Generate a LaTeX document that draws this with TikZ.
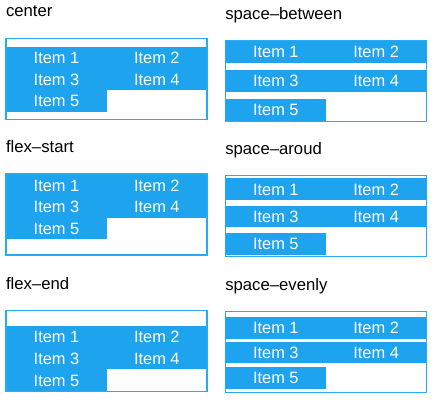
\documentclass[tikz,border=0pt]{standalone}
\usepackage{fontspec}
\setmainfont{Liberation Sans}
\definecolor{fbblue}{RGB}{30,164,238}
\definecolor{fbframe}{RGB}{40,170,243}
\tikzset{
  paneltitle/.style={anchor=base west, inner sep=0pt, outer sep=0pt, font=\fontsize{16.7}{20}\selectfont, text=black},
  panelbox/.style={anchor=north west, draw=fbframe, line width=1.1pt, minimum width=201pt, minimum height=81pt, inner sep=0pt, outer sep=0pt},
  flexitem/.style={anchor=north west, fill=fbblue, minimum width=100.4pt, minimum height=21.6pt, inner sep=0pt, outer sep=0pt, text height=11.7pt, text depth=0pt, text=white, font=\fontsize{16.4}{19}\selectfont}
}
% #1 name, #2 x, #3 y (top), #4 title, #5 #6 #7 row offsets
\newcommand\flexpanel[7]{%
  \node[paneltitle] (#1t) at ({#2},{#3-21.5}) {#4};
  \node[flexitem] (#1a) at ({#2+0.3},{#3+#5}) {Item 1};
  \node[flexitem] (#1b) at ({#2+100.6},{#3+#5}) {Item 2};
  \node[flexitem] (#1c) at ({#2+0.3},{#3+#6}) {Item 3};
  \node[flexitem] (#1d) at ({#2+100.6},{#3+#6}) {Item 4};
  \node[flexitem] (#1e) at ({#2+0.3},{#3+#7}) {Item 5};
  \node[panelbox] (#1) at ({#2},{#3}) {};
}
\begin{document}
\begin{tikzpicture}[x=1pt,y=-1pt]
\useasboundingbox[fill=white] (0,0) rectangle (437,403);
\flexpanel{pc}{6}{38.5}{center}{8.4}{30}{51.6}
\flexpanel{pb}{225.3}{40.7}{space\textendash between}{0.5}{29.5}{58.5}
\flexpanel{ps}{6}{174}{flex\textendash start}{0.5}{22.1}{43.7}
\flexpanel{pa}{225.3}{175.7}{space\textendash aroud}{2.8}{30.2}{57.6}
\flexpanel{pe}{6}{310.7}{flex\textendash end}{15.5}{37.1}{58.7}
\flexpanel{pv}{225.3}{311.7}{space\textendash evenly}{5.5}{30.2}{55.5}
\end{tikzpicture}
\end{document}
